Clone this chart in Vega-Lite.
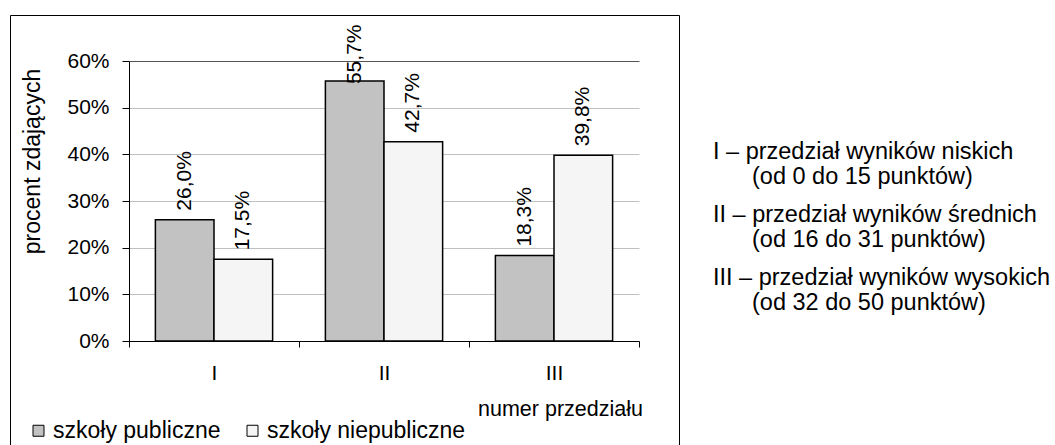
{
  "$schema": "https://vega.github.io/schema/vega-lite/v6.json",
  "padding": {"left": 9, "top": 14, "right": 0, "bottom": 0},
  "background": "white",
  "config": {
    "font": "Liberation Sans",
    "locale": {"number": {"decimal": ",", "thousands": " ", "grouping": [3], "currency": ["", " zł"]}},
    "concat": {"spacing": 32}
  },
  "datasets": {
    "wyniki": [
      {"przedzial": "I", "szkoly": "szkoły publiczne", "odsetek": 0.26},
      {"przedzial": "I", "szkoly": "szkoły niepubliczne", "odsetek": 0.175},
      {"przedzial": "II", "szkoly": "szkoły publiczne", "odsetek": 0.557},
      {"przedzial": "II", "szkoly": "szkoły niepubliczne", "odsetek": 0.427},
      {"przedzial": "III", "szkoly": "szkoły publiczne", "odsetek": 0.183},
      {"przedzial": "III", "szkoly": "szkoły niepubliczne", "odsetek": 0.398}
    ],
    "opis": [
      {"przedzial": "I", "naglowek": "I – przedział wyników niskich", "zakres": "(od 0 do 15 punktów)"},
      {"przedzial": "II", "naglowek": "II – przedział wyników średnich", "zakres": "(od 16 do 31 punktów)"},
      {"przedzial": "III", "naglowek": "III – przedział wyników wysokich", "zakres": "(od 32 do 50 punktów)"}
    ]
  },
  "hconcat": [
    {
      "width": 669,
      "height": 431,
      "view": {"stroke": "black", "strokeWidth": 1},
      "data": {"name": "wyniki"},
      "encoding": {
        "x": {
          "field": "przedzial", "type": "nominal", "sort": ["I", "II", "III"],
          "scale": {"range": [119, 629], "paddingInner": 0, "paddingOuter": 0},
          "axis": {
            "orient": "bottom", "offset": -105, "tickBand": "extent", "tickSize": 6,
            "tickColor": "black", "domainColor": "black", "labelFontSize": 21,
            "labelPadding": 15, "labelAngle": 0, "labelColor": "black",
            "title": "numer przedziału", "titleFontSize": 21.5, "titleFontWeight": "normal",
            "titleColor": "black", "titleX": 550, "titleY": 68, "titleAlign": "center",
            "titleBaseline": "middle", "grid": false
          }
        },
        "xOffset": {
          "field": "szkoly", "type": "nominal",
          "sort": ["szkoły publiczne", "szkoły niepubliczne"],
          "scale": {"paddingInner": 0, "paddingOuter": 0.45}
        },
        "y": {
          "field": "odsetek", "type": "quantitative",
          "scale": {"domain": [0, 0.6], "range": [326, 46], "nice": false, "zero": true},
          "axis": {
            "orient": "left", "offset": -119, "values": [0, 0.1, 0.2, 0.3, 0.4, 0.5, 0.6],
            "format": ".0%", "tickSize": 7, "tickColor": "black", "domainColor": "black",
            "labelFontSize": 21, "labelPadding": 13, "labelColor": "black",
            "grid": true,
            "gridColor": {"condition": {"test": "datum.value >= 0.6", "value": "#555555"}, "value": "#c0c0c0"},
            "gridWidth": 1,
            "title": "procent zdających", "titleFontSize": 23, "titleFontWeight": "normal",
            "titleColor": "black", "titleAngle": 270, "titleX": -97, "titleY": 146,
            "titleAlign": "center", "titleBaseline": "middle"
          }
        }
      },
      "layer": [
        {
          "mark": {"type": "bar", "stroke": "black", "strokeWidth": 1.5},
          "encoding": {
            "fill": {
              "field": "szkoly", "type": "nominal",
              "scale": {"domain": ["szkoły publiczne", "szkoły niepubliczne"], "range": ["#c2c2c2", "#f5f5f5"]},
              "legend": {
                "orient": "none", "legendX": 17, "legendY": 404, "direction": "horizontal",
                "title": null, "symbolType": "square", "symbolSize": 121,
                "symbolStrokeColor": "black", "symbolStrokeWidth": 1,
                "labelFontSize": 23, "labelOffset": 3, "columnPadding": 20, "labelColor": "black",
                "labelLimit": 0
              }
            }
          }
        },
        {
          "transform": [{"filter": "datum.odsetek < 0.5"}],
          "mark": {"type": "text", "angle": 270, "align": "left", "baseline": "middle", "dx": 9, "fontSize": 21, "color": "black"},
          "encoding": {"text": {"field": "odsetek", "type": "quantitative", "format": ".1%"}}
        },
        {
          "transform": [{"filter": "datum.odsetek >= 0.5"}],
          "mark": {"type": "text", "angle": 270, "align": "left", "baseline": "middle", "dx": -3, "fontSize": 21, "color": "black"},
          "encoding": {"text": {"field": "odsetek", "type": "quantitative", "format": ".1%"}}
        }
      ]
    },
    {
      "width": 2,
      "height": 431,
      "view": {"stroke": null},
      "data": {"name": "opis"},
      "encoding": {
        "y": {
          "field": "przedzial", "type": "ordinal",
          "scale": {"type": "point", "domain": ["I", "II", "III"], "range": [149, 275], "padding": 0},
          "axis": null
        }
      },
      "layer": [
        {
          "mark": {"type": "text", "align": "left", "baseline": "middle", "dy": -12.5, "fontSize": 23.5, "color": "black"},
          "encoding": {"text": {"field": "naglowek", "type": "nominal"}}
        },
        {
          "mark": {"type": "text", "align": "left", "baseline": "middle", "dy": 12.5, "dx": 39, "fontSize": 23.5, "color": "black"},
          "encoding": {"text": {"field": "zakres", "type": "nominal"}}
        }
      ]
    }
  ]
}
